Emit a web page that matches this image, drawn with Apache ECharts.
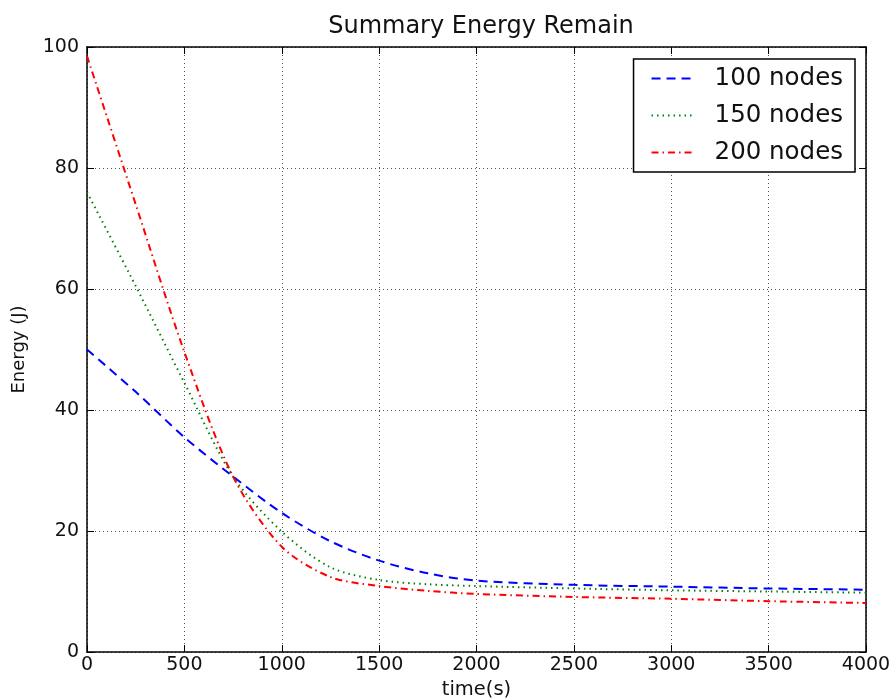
<!DOCTYPE html>
<html>
<head>
<meta charset="utf-8">
<script src="https://cdn.jsdelivr.net/npm/echarts@6/dist/echarts.min.js"></script>
<style>
  html, body { margin: 0; padding: 0; background: #fff; }
  #chart { width: 896px; height: 700px; }
</style>
</head>
<body>
<div id="chart"></div>
<script>
// 采样时间点 (s)
let times = [0, 250, 500, 750, 1000, 1250, 1500, 1750, 2000, 2500, 3000, 3500, 4000]
// 各规模剩余能量 (J)
let nodes100 = [50, 43, 35.5, 29, 23, 18.3, 15.1, 13, 11.8, 11.1, 10.8, 10.5, 10.3]
let nodes150 = [76, 60.5, 44.5, 29, 19.9, 14, 11.9, 11.2, 10.9, 10.5, 10.2, 10.0, 9.8]
let nodes200 = [98.5, 74, 49.6, 29, 17.4, 12.4, 10.9, 10.1, 9.6, 9.1, 8.8, 8.4, 8.1]
let seriesNames = ['100 nodes', '150 nodes', '200 nodes']

function pairs (ys) {
    let out = []
    for (let i = 0, len = times.length; i < len; i++) {
        out.push([times[i], ys[i]])
    }
    return out
}

let font = 'DejaVu Sans'
let chart = echarts.init(document.getElementById('chart'))

let baseAxis = {
    axisLine: { show: true, onZero: false, lineStyle: { color: '#000', width: 1.5 } },
    axisTick: { show: true, inside: true, length: 7, lineStyle: { color: '#000' } },
    axisLabel: { color: '#000', fontFamily: font, fontSize: 19 },
    splitLine: { show: true, lineStyle: { color: '#555', type: [1, 3], width: 1 } }
}

let option = {
    backgroundColor: '#fff',
    animation: false,
    title: {
        text: 'Summary Energy Remain',
        left: 476,
        textAlign: 'center',
        top: 10,
        textStyle: { color: '#111', fontFamily: font, fontSize: 24, fontWeight: 'normal' }
    },
    legend: {
        orient: 'vertical',
        right: 41,
        top: 59,
        data: seriesNames,
        backgroundColor: '#fff',
        borderColor: '#000',
        borderWidth: 1.5,
        borderRadius: 0,
        padding: [7, 12, 7, 17],
        itemWidth: 40,
        itemHeight: 14,
        itemGap: 12,
        itemStyle: { opacity: 0 },
        textStyle: { color: '#111', fontFamily: font, fontSize: 24.5, padding: [0, 0, 0, 18] }
    },
    grid: { left: 87, right: 30, top: 47, bottom: 48, show: false, outerBoundsMode: 'none' },
    xAxis: [
        Object.assign({}, baseAxis, {
            type: 'value', min: 0, max: 4000, interval: 500,
            name: 'time(s)', nameLocation: 'middle', nameGap: 28,
            nameTextStyle: { color: '#111', fontFamily: font, fontSize: 19.5 },
            axisLabel: { color: '#111', fontFamily: font, fontSize: 19, margin: 4,
                formatter: function (v) { return String(v) } }
        }),
        Object.assign({}, baseAxis, {
            type: 'value', min: 0, max: 4000, interval: 500, position: 'top',
            axisLabel: { show: false }, splitLine: { show: false }
        })
    ],
    yAxis: [
        Object.assign({}, baseAxis, {
            type: 'value', min: 0, max: 100, interval: 20,
            name: 'Energy (J)', nameLocation: 'middle', nameGap: 59,
            nameTextStyle: { color: '#111', fontFamily: font, fontSize: 18 },
            axisLabel: { color: '#111', fontFamily: font, fontSize: 19, margin: 8 }
        }),
        Object.assign({}, baseAxis, {
            type: 'value', min: 0, max: 100, interval: 20, position: 'right',
            axisLabel: { show: false }, splitLine: { show: false }
        })
    ],
    series: [
        {
            name: seriesNames[0], type: 'line', smooth: 0.3, symbol: 'none',
            data: pairs(nodes100),
            itemStyle: { color: '#0000ff' },
            lineStyle: { color: '#0000ff', width: 2, type: [9, 6] }
        },
        {
            name: seriesNames[1], type: 'line', smooth: 0.3, symbol: 'none',
            data: pairs(nodes150),
            itemStyle: { color: '#008000' },
            lineStyle: { color: '#008000', width: 2, type: [1.5, 4] }
        },
        {
            name: seriesNames[2], type: 'line', smooth: 0.3, symbol: 'none',
            data: pairs(nodes200),
            itemStyle: { color: '#ff0000' },
            lineStyle: { color: '#ff0000', width: 2, type: [7, 4, 1.5, 4] }
        }
    ]
}
chart.setOption(option)
</script>
</body>
</html>
